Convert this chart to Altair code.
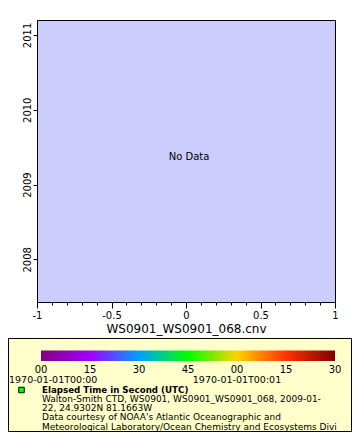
import altair as alt
import pandas as pd

# ---- data ----
x_ticks = [round(i / 10, 1) for i in range(-10, 11)]
y_ticks = [2008, 2009, 2010, 2011]
x_domain = [-1, 1]
y_domain = [2007.43, 2011.2]
no_data_label = ["No Data"]
x_title = "WS0901_WS0901_068.cnv"

cb_index = [0, 1, 2, 3, 4, 5, 6]
cb_labels = ["00", "15", "30", "45", "00", "15", "30"]
cb_colors = ["#800080", "#A000FF", "#00A0FF", "#00FF00", "#FFD200", "#FF3200", "#800000"]
time_labels = ["1970-01-01T00:00", "1970-01-01T00:01"]
time_index = [0, 4]

legend_title = "Elapsed Time in Second (UTC)"
legend_lines = [
    "Walton-Smith CTD, WS0901, WS0901_WS0901_068, 2009-01-",
    "22, 24.9302N 81.1663W",
    "Data courtesy of NOAA's Atlantic Oceanographic and",
    "Meteorological Laboratory/Ocean Chemistry and Ecosystems Divi",
]

FONT = "DejaVu Sans"
W, H = 298, 282

# ---- main plot (empty, "No Data") ----
nd = pd.DataFrame({"x": [(x_domain[0] + x_domain[1]) / 2],
                   "y": [(y_domain[0] + y_domain[1]) / 2],
                   "label": no_data_label})

tick_test = "abs(datum.value*2 - round(datum.value*2)) < 0.001"

main = alt.Chart(nd).mark_text(fontSize=10, font=FONT, color="black", dx=3, dy=-4).encode(
    x=alt.X("x:Q", scale=alt.Scale(domain=x_domain, nice=False, zero=False),
            axis=alt.Axis(values=x_ticks, format=".1~f", title=x_title,
                          labelExpr=f"{tick_test} ? replace(datum.label, '\u2212', '-') : ''",
                          tickSize={"condition": {"test": tick_test, "value": 6}, "value": 3},
                          grid=False, labelFontSize=10, titleFontSize=12,
                          titleFontWeight="normal", labelPadding=2, titlePadding=3,
                          domainColor="black", tickColor="black", labelFont=FONT,
                          titleFont=FONT, labelColor="black", titleColor="black",
                          labelFlush=False)),
    y=alt.Y("y:Q", scale=alt.Scale(domain=y_domain, nice=False, zero=False),
            axis=alt.Axis(values=y_ticks, format="d", title=None, grid=False,
                          labelAngle=-90, labelFontSize=10, tickSize=4, labelPadding=1,
                          domainColor="black", tickColor="black", labelFont=FONT,
                          labelColor="black", labelFlush=False)),
    text="label:N",
)

# ---- legend box ----
box = alt.Chart(pd.DataFrame({"a": [0]})).mark_rect(
    fill="#FFFFCC", stroke="black", strokeWidth=1
).encode(x=alt.value(-28.5), x2=alt.value(314.5), y=alt.value(318.5), y2=alt.value(411.5))

cb_scale = alt.Scale(domain=[0, 6], range=[4, 298], nice=False, zero=False)

grad = alt.Gradient(
    gradient="linear",
    stops=[alt.GradientStop(offset=i / 6, color=c) for i, c in enumerate(cb_colors)],
    x1=0, x2=1, y1=0, y2=0,
)
colorbar = alt.Chart(pd.DataFrame({"a": [cb_index[0]], "b": [cb_index[-1]]})).mark_rect(
    fill=grad
).encode(
    x=alt.X("a:Q", scale=cb_scale, axis=None),
    x2="b:Q",
    y=alt.value(330.5), y2=alt.value(341),
)

cb_text = alt.Chart(pd.DataFrame({"i": cb_index, "t": cb_labels})).mark_text(
    fontSize=10, font=FONT, color="black", baseline="middle"
).encode(x=alt.X("i:Q", scale=cb_scale, axis=None), y=alt.value(350), text="t:N")

time_df = pd.DataFrame({"i": time_index, "t": time_labels})
time_text1 = alt.Chart(time_df.iloc[[0]]).mark_text(
    fontSize=9.5, font=FONT, color="black", baseline="middle", align="left"
).encode(x=alt.value(-28), y=alt.value(359.5), text="t:N")
time_text2 = alt.Chart(time_df.iloc[[1]]).mark_text(
    fontSize=9.5, font=FONT, color="black", baseline="middle", align="center"
).encode(x=alt.X("i:Q", scale=cb_scale, axis=None), y=alt.value(359.5), text="t:N")

marker = alt.Chart(pd.DataFrame({"a": [0]})).mark_square(
    fill="#00FF00", stroke="black", strokeWidth=1, size=30, opacity=1
).encode(x=alt.value(-15.5), y=alt.value(370))

title_text = alt.Chart(pd.DataFrame({"t": [legend_title]})).mark_text(
    fontSize=8.7, font=FONT, fontWeight="bold", color="black", align="left", baseline="middle"
).encode(x=alt.value(5), y=alt.value(369.5), text="t:N")

lines_df = pd.DataFrame({"n": list(range(len(legend_lines))), "t": legend_lines})
lines_text = alt.Chart(lines_df).mark_text(
    fontSize=9, font=FONT, color="black", align="left", baseline="middle"
).encode(
    x=alt.value(5),
    y=alt.Y("n:Q", scale=alt.Scale(domain=[0, 3], range=[378.8, 406.7], nice=False, zero=False), axis=None),
    text="t:N",
)

chart = alt.layer(
    main, box, colorbar, cb_text, time_text1, time_text2, marker, title_text, lines_text
).resolve_scale(x="independent", y="independent").properties(
    width=W, height=H,
    autosize=alt.AutoSizeParams(type="none"),
    padding={"left": 29, "top": 12, "right": 17, "bottom": 130},
    background="white",
).configure(font=FONT).configure_view(fill="#CCCCFF", stroke="black", strokeWidth=1)

chart.save("out.html", embed_options={"renderer": "svg", "actions": False})
